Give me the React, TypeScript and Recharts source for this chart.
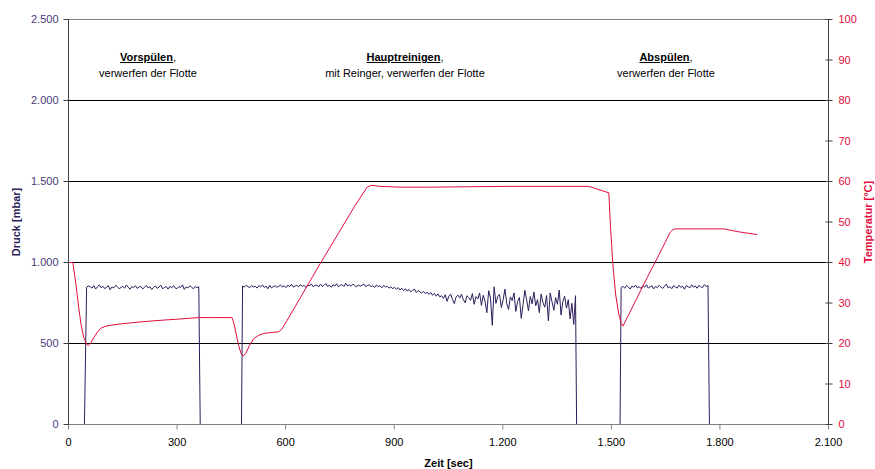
import React from 'react';
import { LineChart, Line, XAxis, YAxis, CartesianGrid, ReferenceLine } from 'recharts';

// Zeit-Achse
const timeTicks = [0, 300, 600, 900, 1200, 1500, 1800, 2100];
const pressureTicks = [0, 500, 1000, 1500, 2000, 2500];
const tempTicks = [0, 10, 20, 30, 40, 50, 60, 70, 80, 90, 100];

// Temperatur [°C] über Zeit [sec]
const tempTimes = [
  0, 12, 20, 28, 35, 42, 50, 55, 62, 70, 80, 88, 100, 116, 150, 208, 250, 300, 360, 400, 452,
  457, 463, 470, 477, 483, 490, 500, 512, 525, 540, 560, 581, 590, 604, 696, 788, 825, 835, 844,
  860, 917, 1000, 1212, 1438, 1493, 1497, 1501, 1504, 1512, 1520, 1527, 1532, 1565, 1599, 1630,
  1663, 1670, 1677, 1740, 1811, 1850, 1903,
];
const tempValues = [
  40, 40, 35, 29, 24.5, 21.5, 19.8, 19.5, 20.2, 21.5, 22.8, 23.7, 24.2, 24.5, 24.9, 25.4, 25.7, 26, 26.4, 26.4, 26.4,
  25, 22.5, 19.5, 17.5, 16.9, 17.6, 19.5, 21.2, 22, 22.5, 22.7, 22.9, 23.6, 25.7, 39.8, 53.5, 58.6, 59, 59,
  58.8, 58.6, 58.6, 58.8, 58.8, 57.2, 50, 44, 39.7, 32, 27.5, 25, 24.3, 30.2, 36.3, 41.6,
  47.5, 48.1, 48.3, 48.3, 48.3, 47.6, 46.9,
];

// Druck [mbar], Messwerte alle 5 sec
const sampleStep = 5;
const vorspuelenStart = 50;
const vorspuelenValues = [
  848, 855, 851, 842, 858, 836, 850, 861, 844, 853,
  839, 847, 856, 832, 849, 843, 859, 851, 838, 846,
  854, 841, 862, 848, 835, 851, 845, 857, 840, 849,
  852, 837, 846, 858, 843, 850, 833, 847, 855, 841,
  849, 860, 838, 845, 852, 836, 853, 844, 857, 842,
  839, 851, 846, 862, 834, 849, 843, 856, 848, 838,
  852, 845, 850,
];
const hauptStart = 481;
const hauptValues = [
  855, 848, 860, 851, 845, 858, 849, 853, 842, 857,
  850, 861, 846, 854, 838, 859, 843, 852, 856, 847,
  853, 862, 849, 857, 845, 860, 851, 866, 848, 855,
  859, 850, 864, 852, 858, 847, 861, 855, 868, 851,
  857, 862, 849, 866, 853, 858, 870, 852, 860, 847,
  863, 855, 869, 850, 859, 864, 852, 872, 856, 861,
  854, 866, 858, 849, 862, 853, 860, 867, 851, 858,
  863, 850, 857, 846, 861, 852, 856, 844, 859, 849,
  853, 842, 850, 838, 847, 835, 845, 830, 841, 826,
  838, 824, 833, 819, 829, 836, 815, 827, 820, 811,
  822, 808, 817, 803, 815, 798, 809, 792, 806, 788,
  795, 778, 801, 760, 792, 805, 772, 746, 788, 799,
  781, 804, 770, 752, 795, 783, 766, 808, 742, 790,
  775, 812, 735, 798, 760, 690, 826, 781, 612, 850,
  748, 792, 803, 722, 770, 836, 745, 710, 788, 765,
  812, 698, 760, 784, 655, 741, 828, 769, 702, 790,
  745, 818, 733, 771, 690, 806, 752, 724, 796, 640,
  812, 758, 705, 783, 742, 830, 676, 760, 792, 718,
  770, 652, 748, 618, 795,
];
const abspuelenStart = 1527;
const abspuelenValues = [
  846, 853, 841, 858, 849, 836, 855, 847, 860, 843,
  851, 839, 857, 848, 863, 842, 850, 856, 837, 852,
  845, 859, 848, 840, 854, 866, 843, 851, 838, 857,
  849, 842, 860, 846, 853, 835, 858, 850, 844, 862,
  848, 855, 841, 859, 850, 845, 864, 852, 858,
];
// Pumpe aus (Druck 0) zwischen den Phasen
const offTimes = [[0, 44], [364, 478], [1404, 1524], [1771, 1771]];

const segment = (start: number, values: number[]) =>
  values.map((p, i) => ({ t: start + i * sampleStep, p }));

const pressureData = [
  ...offTimes[0].map((t) => ({ t, p: 0 })),
  ...segment(vorspuelenStart, vorspuelenValues),
  ...offTimes[1].map((t) => ({ t, p: 0 })),
  ...segment(hauptStart, hauptValues),
  ...offTimes[2].map((t) => ({ t, p: 0 })),
  ...segment(abspuelenStart, abspuelenValues),
  { t: offTimes[3][0], p: 0 },
];

const tempData = tempTimes.map((t, i) => ({ t, T: tempValues[i] }));

const FONT = '"Liberation Sans", Arial, sans-serif';
const PURPLE = '#2c1d5c';
const RED = '#e40c3c';

const fmt = (v: number) => String(v).replace(/\B(?=(\d{3})+(?!\d))/g, '.');

const VTitle = ({ viewBox, text, color, x }: any) => {
  const cy = viewBox.y + viewBox.height / 2;
  return (
    <text
      x={x}
      y={cy}
      transform={`rotate(-90 ${x} ${cy})`}
      textAnchor="middle"
      dominantBaseline="central"
      fill={color}
      fontWeight="bold"
      fontSize={11}
      fontFamily={FONT}
    >
      {text}
    </text>
  );
};

// rechte Achse: Striche kreuzen die Achse
const TempTick = ({ x, y, payload }: any) => (
  <g>
    <line x1={x - 13} x2={x - 10} y1={y} y2={y} stroke="#404040" />
    <text x={x} y={y} dy="0.355em" textAnchor="start" fill={RED} fontSize={11} fontFamily={FONT}>
      {payload.value}
    </text>
  </g>
);

const Phase = ({ x, title, sub }: { x: number; title: string; sub: string }) => (
  <div
    style={{
      position: 'absolute',
      left: x - 150,
      top: 49,
      width: 300,
      textAlign: 'center',
      fontFamily: FONT,
      fontSize: 11,
      lineHeight: '16px',
      color: '#000',
    }}
  >
    <b>
      <u>{title}</u>
    </b>
    ,
    <br />
    {sub}
  </div>
);

export default function App() {
  return (
    <div style={{ position: 'absolute', left: 0, top: 0, width: 875, height: 469, background: '#fff' }}>
      <LineChart width={875} height={469} margin={{ top: 19.5, right: 0, bottom: 0, left: 0 }}>
        <CartesianGrid yAxisId="p" vertical={false} stroke="#000" />
        <XAxis
          dataKey="t"
          type="number"
          domain={[0, 2100]}
          ticks={timeTicks}
          tickFormatter={fmt}
          height={44.5}
          stroke="#808080"
          tickSize={5}
          tickMargin={9}
          tick={{ fill: '#000', fontSize: 11, fontFamily: FONT }}
          label={{
            value: 'Zeit [sec]',
            position: 'insideBottom',
            offset: 2,
            style: { fontWeight: 'bold', fill: '#000', fontSize: 11, fontFamily: FONT },
          }}
        />
        <YAxis
          yAxisId="p"
          orientation="left"
          domain={[0, 2500]}
          ticks={pressureTicks}
          tickFormatter={fmt}
          width={68.5}
          stroke="#404040"
          tickSize={5}
          tickMargin={5}
          tick={{ fill: '#463a78', fontSize: 11, fontFamily: FONT }}
          label={(p: any) => <VTitle {...p} text="Druck [mbar]" color={PURPLE} x={16} />}
        />
        <YAxis
          yAxisId="T"
          orientation="right"
          domain={[0, 100]}
          ticks={tempTicks}
          width={46.5}
          stroke="#404040"
          tickSize={4}
          tickMargin={6}
          tick={TempTick}
          label={(p: any) => <VTitle {...p} text="Temperatur [°C]" color={RED} x={868} />}
        />
        <ReferenceLine yAxisId="p" y={2500} stroke="#808080" />
        <Line
          yAxisId="p"
          data={pressureData}
          dataKey="p"
          stroke={PURPLE}
          strokeWidth={1}
          dot={false}
          isAnimationActive={false}
        />
        <Line
          yAxisId="T"
          data={tempData}
          dataKey="T"
          stroke={RED}
          strokeWidth={1}
          dot={false}
          isAnimationActive={false}
        />
      </LineChart>
      <Phase x={148} title="Vorspülen" sub="verwerfen der Flotte" />
      <Phase x={405} title="Hauptreinigen" sub="mit Reinger, verwerfen der Flotte" />
      <Phase x={666} title="Abspülen" sub="verwerfen der Flotte" />
    </div>
  );
}
